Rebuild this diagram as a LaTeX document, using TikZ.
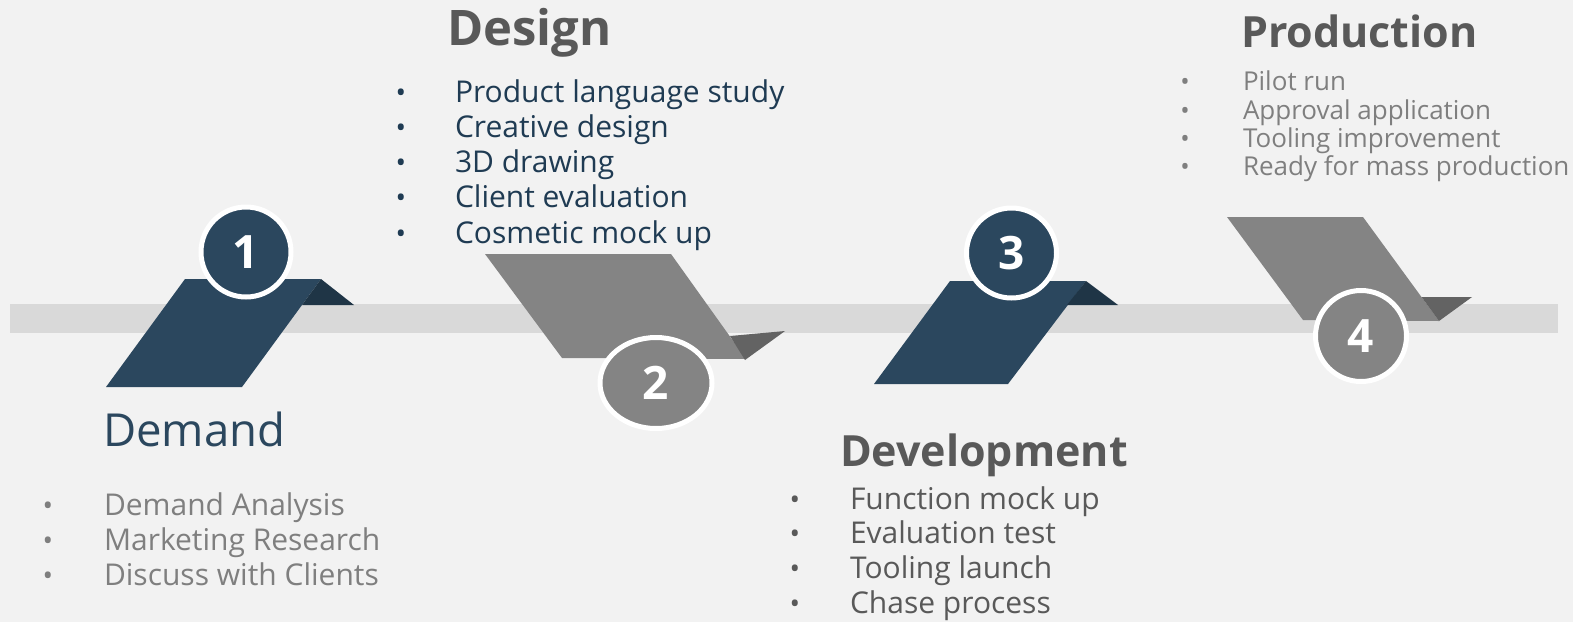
\documentclass[tikz,border=0pt]{standalone}
\usepackage{fontspec}
\setmainfont{Open Sans}
\usetikzlibrary{shapes.geometric}
\definecolor{bgc}{HTML}{F2F2F2}
\definecolor{barc}{HTML}{D9D9D9}
\definecolor{navy}{HTML}{2B475E}
\definecolor{navyd}{HTML}{1F3546}
\definecolor{greyf}{HTML}{848484}
\definecolor{greyd}{HTML}{636363}
\definecolor{titlec}{HTML}{595959}
\definecolor{itemg}{HTML}{7F7F7F}
\definecolor{itemn}{HTML}{1F3B53}
\newcommand\fsz[1]{\fontsize{#1}{#1}\selectfont}
\tikzset{
  txt/.style={anchor=base west, inner sep=0pt, outer sep=0pt},
  bul/.style={anchor=base, inner sep=0pt, outer sep=0pt},
  numc/.style={circle, draw=white, line width=5pt, minimum size=90pt, inner sep=0pt, text=white, font=\fsz{46}\bfseries},
}
\begin{document}
\begin{tikzpicture}[x=1pt,y=-1pt]
\fill[bgc] (0,0) rectangle (1573,622);
\useasboundingbox (0,0) rectangle (1573,622);
\fill[barc] (10,304) rectangle (1558,333);
% stage 1
\fill[navy] (185,279) -- (321,279) -- (242,387) -- (106,387) -- cycle;
\fill[navyd] (321,279) -- (354,305) -- (302,305) -- cycle;
\node[numc, fill=navy] (c1) at (246,252) {1};
% stage 2
\fill[greyf] (485,254) -- (671,254) -- (746,359) -- (562,358) -- cycle;
\fill[greyd] (730,336) -- (785,331) -- (745,360) -- cycle;
\node[numc, ellipse, fill=greyf, minimum width=112pt, minimum height=91pt] (c2) at (656,383) {2};
% stage 3
\fill[navy] (950,281) -- (1086,281) -- (1008,384) -- (874,384) -- cycle;
\fill[navyd] (1086,281) -- (1118,305) -- (1067,305) -- cycle;
\node[numc, fill=navy] (c3) at (1011.5,253) {3};
% stage 4
\fill[greyf] (1227,217) -- (1363,217) -- (1439,321) -- (1303,320) -- cycle;
\fill[greyd] (1421.5,297) -- (1472,297) -- (1439,321) -- cycle;
\node[numc, fill=greyf, minimum size=91pt] (c4) at (1361,336) {4};
% titles
\node[txt, text=navy, font=\fsz{45.5}] (tdem) at (103,446.7) {Demand};
\node[txt, text=titlec, font=\fsz{49}\bfseries] (tdes) at (447,45) {Design};
\node[txt, text=titlec, font=\fsz{43}\bfseries] (tdev) at (840,466.7) {Development};
\node[txt, text=titlec, font=\fsz{43}\bfseries] (tpro) at (1241,47) {Production};
% demand items
\foreach \t [count=\i] in {Demand Analysis, Marketing Research, Discuss with Clients}{
  \node[bul, text=itemg, font=\fsz{28}] (demb\i) at (48,{515+35*(\i-1)}) {•};
  \node[txt, text=itemg, font=\fsz{30}] (demi\i) at (104,{515+35*(\i-1)}) {\t};
}
% design items
\foreach \t [count=\i] in {Product language study, Creative design, 3D drawing, Client evaluation, Cosmetic mock up}{
  \node[bul, text=itemn, font=\fsz{28}] (desb\i) at (401,{102+35.3*(\i-1)}) {•};
  \node[txt, text=itemn, font=\fsz{30}] (desi\i) at (455,{102+35.3*(\i-1)}) {\t};
}
% development items
\foreach \t [count=\i] in {Function mock up, Evaluation test, Tooling launch, Chase process}{
  \node[bul, text=titlec, font=\fsz{28}] (devb\i) at (795,{509+34.7*(\i-1)}) {•};
  \node[txt, text=titlec, font=\fsz{30}] (devi\i) at (850,{509+34.7*(\i-1)}) {\t};
}
% production items
\foreach \t [count=\i] in {Pilot run, Approval application, Tooling improvement, Ready for mass production}{
  \node[bul, text=itemg, font=\fsz{25}] (prob\i) at (1185,{90.7+28.4*(\i-1)}) {•};
  \node[txt, text=itemg, font=\fsz{26}] (proi\i) at (1243,{90.7+28.4*(\i-1)}) {\t};
}
\end{tikzpicture}
\end{document}
